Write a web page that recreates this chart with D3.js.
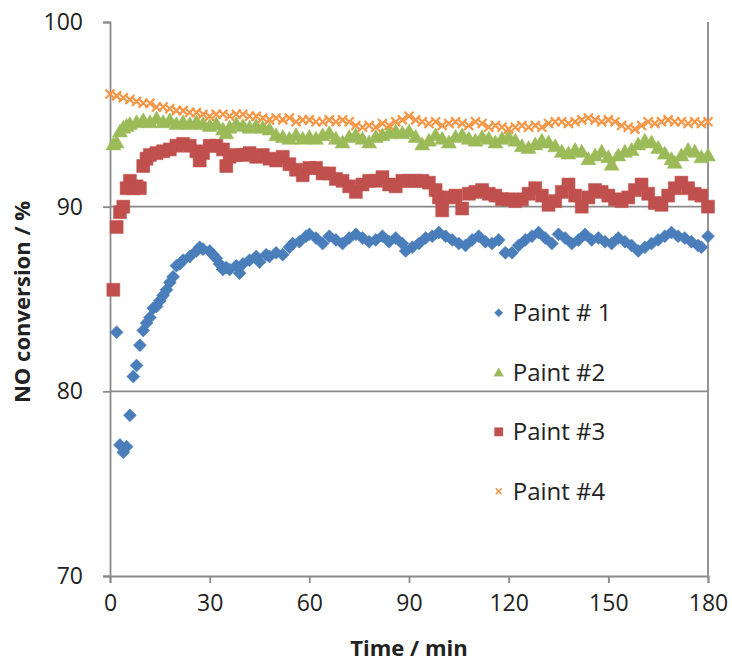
<!DOCTYPE html>
<html>
<head>
<meta charset="utf-8">
<script src="https://cdn.jsdelivr.net/npm/d3@7"></script>
<style>
  body { margin: 0; background: #fff; }
  text { font-family: "Open Sans", sans-serif; fill: #222; }
</style>
</head>
<body>
<svg id="chart" width="732" height="663"></svg>
<script>
// data (time in min, NO conversion in %)
const paint1_t = [2,3,4,5,6,7,8,9,10,11,12,13,14,15,16,17,18,19,20,21,22,24,26,27,28,30,31,32,33,34,35,36,38,39,40,42,44,45,47,48,50,52,54,55,57,59,60,62,64,66,68,70,72,74,76,78,80,82,84,86,88,89,91,93,95,97,99,101,103,105,107,109,111,113,115,117,119,121,123,125,127,129,131,133,135,137,139,141,143,145,147,149,151,153,155,157,159,161,163,165,167,169,171,173,175,177,178,180];
const paint1_v = [83.2,77.1,76.7,77.0,78.7,80.8,81.4,82.5,83.3,83.7,84.0,84.5,84.6,84.9,85.2,85.5,85.9,86.2,86.8,86.9,87.1,87.3,87.6,87.8,87.7,87.6,87.4,87.2,86.9,86.6,86.7,86.6,86.8,86.4,86.9,87.1,87.3,87.0,87.4,87.3,87.5,87.4,87.8,88.0,88.1,88.4,88.5,88.3,88.0,88.4,88.2,88.0,88.3,88.5,88.3,88.1,88.2,88.4,88.1,88.3,88.0,87.6,87.8,88.0,88.3,88.4,88.6,88.4,88.2,88.0,87.9,88.2,88.4,88.1,88.0,88.2,87.5,87.5,87.9,88.2,88.4,88.6,88.3,88.0,88.5,88.3,88.0,88.2,88.5,88.2,88.3,88.1,88.0,88.3,88.1,87.9,87.6,87.8,88.0,88.2,88.4,88.6,88.4,88.3,88.1,87.9,87.8,88.4];

const paint2_t = [1,2,3,4,5,6,8,10,12,14,16,18,20,22,24,26,28,30,32,34,35,36,38,40,42,44,46,48,50,52,54,56,58,60,62,64,66,68,70,72,74,76,78,80,82,84,86,88,90,92,94,96,98,100,102,104,106,108,110,112,114,116,118,120,122,124,126,128,130,132,134,136,138,140,142,144,146,148,150,151,153,155,157,159,161,163,165,167,169,170,172,174,176,178,180];
const paint2_v = [93.4,93.5,94.1,94.3,94.4,94.5,94.6,94.7,94.6,94.8,94.6,94.7,94.5,94.6,94.5,94.6,94.5,94.4,94.5,94.2,94.0,94.3,94.5,94.4,94.3,94.4,94.3,94.2,93.9,93.8,93.7,93.9,93.7,93.8,93.7,93.9,94.0,93.7,93.5,93.8,93.9,93.7,93.5,93.8,93.9,94.0,94.1,94.0,94.1,93.8,93.4,93.6,93.9,93.7,93.5,93.8,93.9,93.7,93.6,93.8,93.7,93.5,93.7,93.8,93.6,93.3,93.2,93.4,93.6,93.5,93.3,93.0,92.9,93.1,93.0,92.6,92.8,93.0,92.7,92.3,92.8,93.0,93.1,93.4,93.6,93.5,93.2,92.9,92.6,92.4,92.8,93.1,93.0,92.7,92.8];

const paint3_t = [1,2,3,4,5,6,7,8,9,10,11,12,14,16,18,20,22,24,26,27,28,30,32,34,35,36,38,40,42,44,46,48,50,52,54,56,58,60,62,64,66,68,70,72,74,76,78,80,82,84,86,88,90,92,94,96,98,99,100,102,104,106,108,110,112,114,116,118,120,122,124,126,128,130,132,134,136,138,140,142,144,146,148,150,152,154,156,158,160,162,164,166,168,170,172,174,176,178,180];
const paint3_v = [85.5,88.9,89.7,90.0,91.0,91.4,91.0,91.1,91.0,92.2,92.6,92.8,92.9,93.0,93.1,93.3,93.4,93.3,93.0,92.5,92.9,93.3,93.3,93.1,92.2,92.7,92.8,92.8,92.9,92.7,92.8,92.6,92.5,92.7,92.3,92.0,91.7,92.1,92.1,91.8,91.8,91.5,91.4,91.1,90.8,91.2,91.4,91.4,91.6,91.2,91.1,91.4,91.4,91.4,91.4,91.3,90.9,90.5,89.8,90.5,90.6,89.9,90.7,90.8,90.9,90.7,90.6,90.4,90.4,90.3,90.4,90.7,91.0,90.6,90.1,90.3,90.8,91.2,90.6,90.0,90.5,90.9,90.8,90.6,90.4,90.3,90.5,90.9,91.2,90.7,90.2,90.1,90.6,91.0,91.3,91.0,90.7,90.6,90.0];

const paint4_t = [0,2,4,6,8,10,12,14,16,18,20,22,24,26,28,30,32,34,36,38,40,42,44,46,48,50,52,54,56,58,60,62,64,66,68,70,72,74,76,78,80,82,84,86,88,90,92,94,96,98,100,102,104,106,108,110,112,114,116,118,120,122,124,126,128,130,132,134,136,138,140,142,144,146,148,150,152,154,156,158,160,162,164,166,168,170,172,174,176,178,180];
const paint4_v = [96.1,96.0,95.9,95.8,95.7,95.6,95.6,95.4,95.4,95.3,95.2,95.2,95.1,95.1,95.0,94.9,95.0,95.0,94.9,95.0,95.0,94.9,94.9,94.8,94.7,94.8,94.7,94.8,94.6,94.7,94.7,94.6,94.6,94.7,94.6,94.7,94.6,94.4,94.3,94.4,94.3,94.5,94.4,94.6,94.7,94.9,94.7,94.6,94.5,94.6,94.4,94.5,94.6,94.5,94.4,94.6,94.5,94.3,94.4,94.3,94.2,94.3,94.4,94.3,94.4,94.3,94.5,94.6,94.6,94.5,94.6,94.7,94.8,94.7,94.6,94.7,94.6,94.4,94.3,94.2,94.4,94.6,94.5,94.6,94.7,94.6,94.6,94.5,94.6,94.5,94.6];

const seriesNames = ["Paint # 1", "Paint #2", "Paint #3", "Paint #4"];
const xTicks = [0, 30, 60, 90, 120, 150, 180];
const yTicks = [70, 80, 90, 100];

// layout
const margin = { top: 22, right: 24, bottom: 87, left: 110 },
      width = 732 - margin.left - margin.right,
      height = 663 - margin.top - margin.bottom;

const svg = d3.select("#chart")
  .append("g")
  .attr("transform", `translate(${margin.left},${margin.top})`);

const x = d3.scaleLinear().domain([0, 180]).range([0, width]);
const y = d3.scaleLinear().domain([70, 100]).range([height, 0]);

const axisColor = "#8a8a8a";

// gridlines (80, 90)
svg.selectAll(".grid")
  .data([80, 90])
  .enter().append("line")
  .attr("x1", 0).attr("x2", width)
  .attr("y1", d => y(d)).attr("y2", d => y(d))
  .attr("stroke", axisColor).attr("stroke-width", 1.8);

// right border
svg.append("line")
  .attr("x1", width).attr("x2", width)
  .attr("y1", 0).attr("y2", height)
  .attr("stroke", axisColor).attr("stroke-width", 1.8);

// axes
const xAxis = svg.append("g")
  .attr("transform", `translate(0,${height})`)
  .call(d3.axisBottom(x).tickValues(xTicks).tickSize(7).tickPadding(12));
const yAxis = svg.append("g")
  .call(d3.axisLeft(y).tickValues(yTicks).tickSize(7).tickPadding(20));

[xAxis, yAxis].forEach(a => {
  a.select(".domain").attr("stroke", axisColor).attr("stroke-width", 1.8);
  a.selectAll(".tick line").attr("stroke", axisColor).attr("stroke-width", 1.8);
  a.selectAll(".tick text")
    .attr("font-family", "Open Sans, sans-serif")
    .attr("font-size", 23)
    .attr("fill", "#222");
});

// marker shapes
const shapes = [
  { color: "#4a7ebb", path: "M0,-6.5L6.5,0L0,6.5L-6.5,0Z", fill: true },
  { color: "#9bbb59", path: "M0,-7L7.5,6L-7.5,6Z", fill: true },
  { color: "#c0504d", path: "M-6.5,-6.5H6.5V6.5H-6.5Z", fill: true },
  { color: "#f79646", path: "M-4.5,-4.5L4.5,4.5M-4.5,4.5L4.5,-4.5", fill: false }
];

const allSeries = [
  d3.zip(paint1_t, paint1_v),
  d3.zip(paint2_t, paint2_v),
  d3.zip(paint3_t, paint3_v),
  d3.zip(paint4_t, paint4_v)
];

allSeries.forEach((pts, i) => {
  const s = shapes[i];
  svg.append("g").selectAll("path")
    .data(pts)
    .enter().append("path")
    .attr("d", s.path)
    .attr("transform", d => `translate(${x(d[0])},${y(d[1])})`)
    .attr("fill", s.fill ? s.color : "none")
    .attr("stroke", s.color)
    .attr("stroke-width", s.fill ? 0.5 : 2.2);
});

// legend
const legend = svg.append("g").attr("transform", `translate(${x(117)},${y(84.25)})`);
seriesNames.forEach((name, i) => {
  const s = shapes[i];
  const row = legend.append("g").attr("transform", `translate(0,${i * 59.5})`);
  row.append("path")
    .attr("d", s.path)
    .attr("transform", "scale(0.65)")
    .attr("fill", s.fill ? s.color : "none")
    .attr("stroke", s.color)
    .attr("stroke-width", s.fill ? 0.5 : 2.5);
  row.append("text")
    .attr("x", 14).attr("y", 0)
    .attr("dy", "0.35em")
    .attr("font-size", 24)
    .text(name);
});

// axis titles
svg.append("text")
  .attr("x", width / 2).attr("y", height + 80)
  .attr("text-anchor", "middle")
  .attr("font-weight", "bold")
  .attr("font-size", 22)
  .text("Time / min");

svg.append("text")
  .attr("transform", `translate(${-80},${height / 2 + 3}) rotate(-90)`)
  .attr("text-anchor", "middle")
  .attr("font-weight", "bold")
  .attr("font-size", 22)
  .text("NO conversion / %");
</script>
</body>
</html>
